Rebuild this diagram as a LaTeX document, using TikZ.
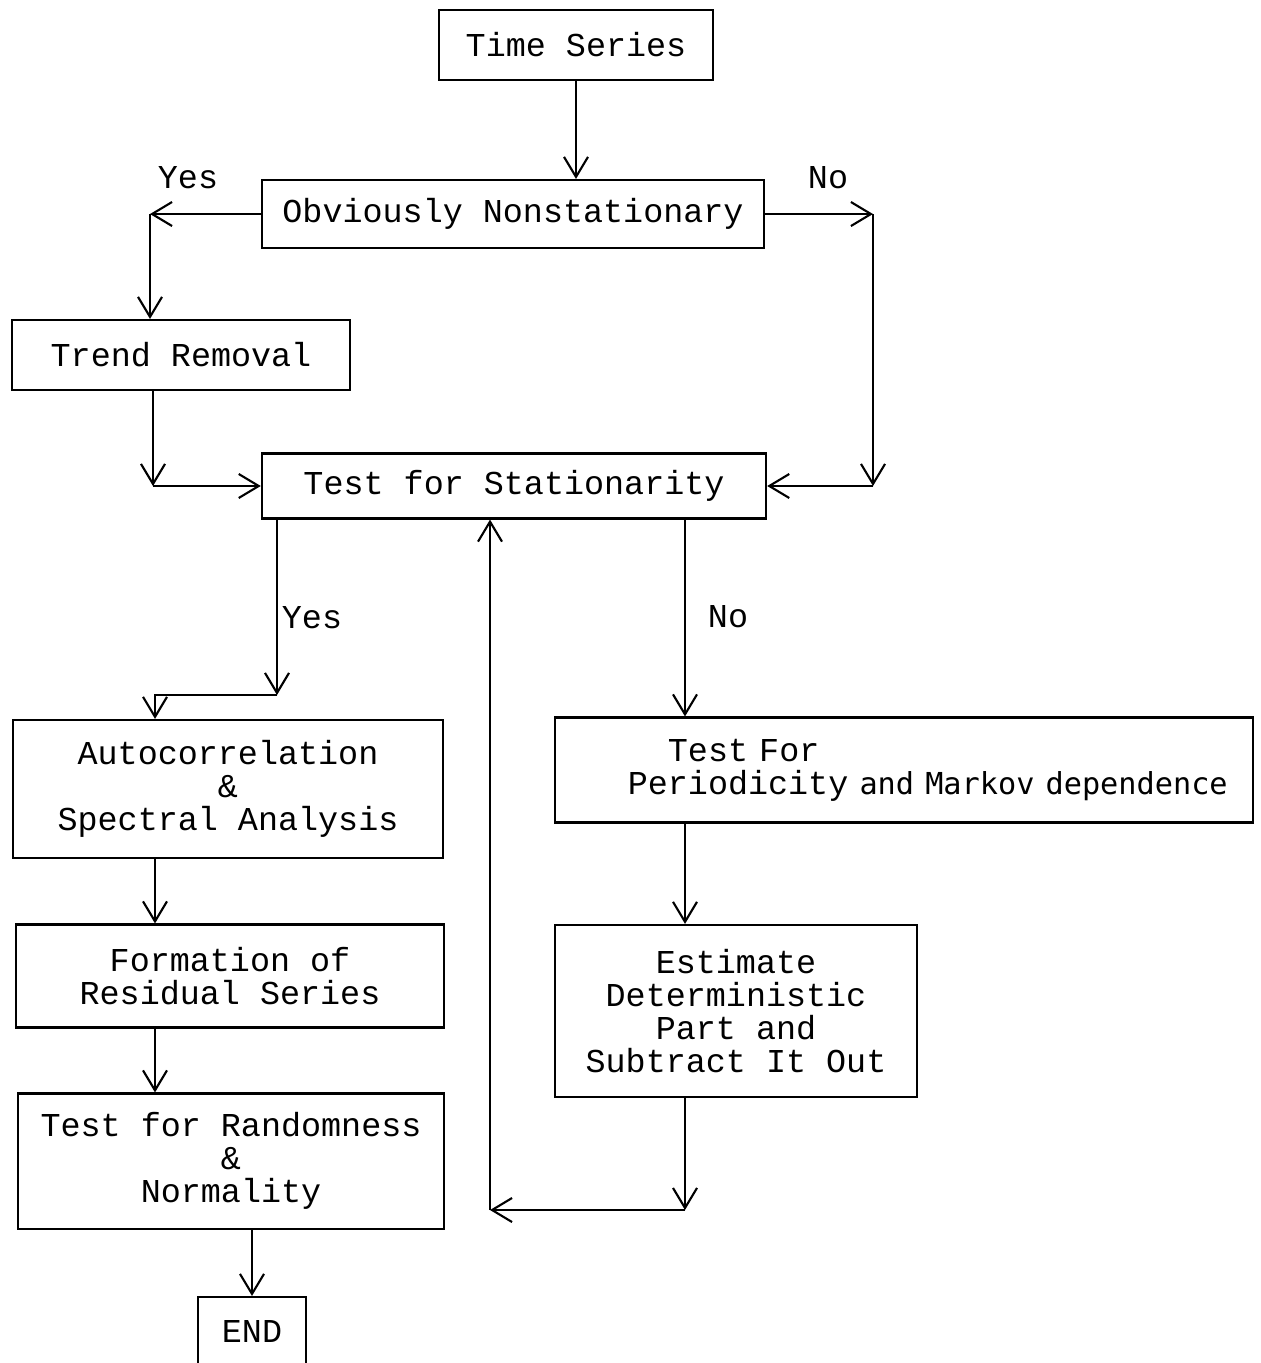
\documentclass[tikz,border=0pt]{standalone}
\usepackage{fontspec}
\setmonofont{Liberation Mono}
\newfontfamily\printsans{DejaVu Sans Mono}
\usetikzlibrary{arrows.meta}
\newcommand{\typed}{\fontsize{9.5}{9.4}\selectfont\ttfamily}
\tikzset{
    flow-box/.style = {draw, rectangle, inner sep=0pt, align=center, font=\typed},
    flow-arrow/.style = {-{Straight Barb[length=2mm,width=2.4mm]}},
    flow-label/.style = {font=\typed, inner sep=0pt},
}

\begin{document}
\begin{tikzpicture}[x=0.01cm, y=-0.01cm, line width=0.6pt]
\useasboundingbox (0,0) rectangle (1260,1363);
% boxes
\node[flow-box, minimum width=2.73cm, minimum height=0.70cm] (series) at (576,45) {Time Series};
\node[flow-box, minimum width=5.02cm, minimum height=0.68cm] (nonstat) at (513,214) {Obviously Nonstationary};
\node[flow-box, minimum width=3.38cm, minimum height=0.70cm] (trend) at (181,355) {Trend Removal};
\node[flow-box, minimum width=5.04cm, minimum height=0.65cm] (stationarity) at (514,486) {Test for Stationarity};
\node[flow-box, minimum width=4.29cm, minimum height=1.38cm] (autocorr) at (228,789) {Autocorrelation\\\&\\Spectral Analysis};
\node[flow-box, text width=6.98cm, minimum height=1.05cm, align=left] (periodicity) at (904,770)
    {\hspace*{0.73cm}\phantom{Pe}Test For\\\hspace*{0.73cm}Periodicity {\printsans\fontsize{8.6}{9.4}\selectfont and Markov dependence}};
\node[flow-box, minimum width=4.28cm, minimum height=1.03cm] (residual) at (230,976) {Formation of\\Residual Series};
\node[flow-box, minimum width=3.62cm, minimum height=1.72cm] (estimate) at (736,1011) {Estimate\\Deterministic\\Part and\\Subtract It Out};
\node[flow-box, minimum width=4.26cm, minimum height=1.35cm] (randomness) at (231,1161) {Test for Randomness\\\&\\Normality};
\node[flow-box, minimum width=1.08cm, minimum height=0.68cm] (finish) at (252,1331) {END};

% labels
\node[flow-label] (yes-a) at (188,178) {Yes};
\node[flow-label] (no-a) at (828,178) {No};
\node[flow-label] (yes-b) at (312,618) {Yes};
\node[flow-label] (no-b) at (728,617) {No};

% corner points
\coordinate (yes-turn) at (150,214);
\coordinate (no-turn) at (873,214);
\coordinate (trend-turn) at (153,486);
\coordinate (stat-yes) at (277,518);
\coordinate (yes-drop) at (277,695);
\coordinate (auto-in) at (155,695);
\coordinate (back-turn) at (685,1210);
\coordinate (back-up) at (490,1210);

% connectors
\draw[flow-arrow] (series.south) -- (series.south |- nonstat.north);
\draw[flow-arrow] (nonstat.west) -- (yes-turn);
\draw[flow-arrow] (yes-turn) -- (yes-turn |- trend.north);
\draw[flow-arrow] (nonstat.east) -- (no-turn);
\draw[flow-arrow] (no-turn) -- (no-turn |- stationarity.east);
\draw[flow-arrow] (no-turn |- stationarity.east) -- (stationarity.east);
\draw[flow-arrow] (trend.south -| trend-turn) -- (trend-turn);
\draw[flow-arrow] (trend-turn) -- (stationarity.west);
\draw[flow-arrow] (stat-yes) -- (yes-drop);
\draw[flow-arrow] (yes-drop) -- (auto-in) -- (auto-in |- autocorr.north);
\draw[flow-arrow] (stationarity.south -| back-turn) -- (back-turn |- periodicity.north);
\draw[flow-arrow] (periodicity.south -| back-turn) -- (back-turn |- estimate.north);
\draw[flow-arrow] (autocorr.south -| auto-in) -- (auto-in |- residual.north);
\draw[flow-arrow] (residual.south -| auto-in) -- (auto-in |- randomness.north);
\draw[flow-arrow] (estimate.south -| back-turn) -- (back-turn);
\draw[flow-arrow] (back-turn) -- (back-up);
\draw[flow-arrow] (back-up) -- (back-up |- stationarity.south);
\draw[flow-arrow] (randomness.south -| finish) -- (finish.north);
\end{tikzpicture}
\end{document}
